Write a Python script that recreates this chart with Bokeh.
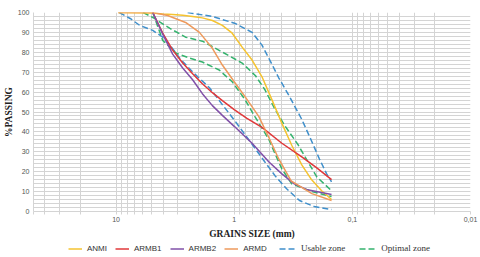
from bokeh.plotting import figure
from bokeh.models import Range1d, FixedTicker, Legend, LegendItem
from bokeh.layouts import column
from bokeh.embed import file_html
from bokeh.resources import INLINE

# ---- data (grain size in mm, % passing) ----
anmi_size = [9.6, 4.89, 4.03, 3.32, 2.73, 2.25, 1.86, 1.53, 1.26, 1.04, 0.857, 0.706, 0.582, 0.48, 0.395, 0.326, 0.268, 0.221, 0.182, 0.15]
anmi_pass = [100, 99.7, 99.3, 99.0, 98.6, 98.0, 97.3, 96.0, 93.5, 89.6, 82.6, 76.1, 67.7, 56.2, 44.3, 33.3, 23.4, 15.9, 10.4, 6.0]

armb1_size = [4.89, 4.03, 3.32, 2.73, 2.25, 1.86, 1.53, 1.26, 1.0, 0.78, 0.582, 0.395, 0.268, 0.2, 0.15]
armb1_pass = [100, 89.6, 81.1, 74.6, 69.2, 64.2, 59.7, 55.7, 51.2, 46.8, 42.3, 34.3, 27.4, 21.9, 16.0]

armb2_size = [4.89, 4.03, 3.32, 2.73, 2.25, 1.86, 1.53, 1.26, 1.0, 0.706, 0.508, 0.395, 0.31, 0.24, 0.15]
armb2_pass = [100, 89.1, 79.1, 72.1, 66.2, 59.2, 53.2, 48.3, 42.8, 34.3, 24.9, 18.9, 13.9, 10.9, 8.5]

armd_size = [9.6, 4.89, 3.66, 2.58, 1.97, 1.53, 1.26, 1.0, 0.81, 0.62, 0.51, 0.42, 0.33, 0.22, 0.15]
armd_pass = [100, 100, 98.5, 95.0, 90.0, 82.0, 73.6, 65.2, 57.7, 47.8, 37.3, 26.4, 15.4, 9.0, 5.5]

usable_up_size = [2.48, 1.53, 0.98, 0.706, 0.582, 0.5, 0.42, 0.34, 0.268, 0.221, 0.19, 0.165, 0.15]
usable_up_pass = [100, 98.0, 94.5, 90.0, 83.6, 76.1, 67.2, 57.7, 46.3, 35.3, 26.4, 18.9, 14.9]

usable_lo_size = [9.4, 7.6, 6.3, 4.89, 4.03, 3.5, 2.9, 2.25, 1.62, 1.26, 0.98, 0.706, 0.55, 0.45, 0.36, 0.28, 0.21, 0.15]
usable_lo_pass = [100, 97.0, 93.5, 91.0, 87.6, 83.6, 77.1, 70.1, 62.2, 53.7, 45.3, 33.8, 24.9, 17.9, 11.4, 5.5, 2.5, 1.0]

optimal_up_size = [5.9, 4.89, 3.5, 2.58, 1.86, 1.26, 0.857, 0.66, 0.55, 0.45, 0.37, 0.29, 0.24, 0.2, 0.15]
optimal_up_pass = [100, 97.5, 92.0, 87.6, 85.6, 80.1, 74.6, 68.2, 61.2, 51.2, 42.8, 33.8, 25.4, 17.4, 10.4]

optimal_lo_size = [4.89, 4.03, 3.1, 2.4, 1.86, 1.34, 1.04, 0.81, 0.67, 0.51, 0.45, 0.395, 0.326, 0.221, 0.15]
optimal_lo_pass = [100, 86.0, 79.6, 77.1, 75.1, 71.1, 65.2, 56.2, 47.8, 36.3, 28.9, 21.4, 13.9, 10.0, 7.5]

x_major = [10, 1, 0.1, 0.01]
x_labels = {10: "10", 1: "1", 0.1: "0,1", 0.01: "0,01"}
x_minor = [50, 40, 30, 20,
           9, 8, 7, 6, 5, 4, 3, 2,
           0.9, 0.8, 0.7, 0.6, 0.5, 0.4, 0.3, 0.2,
           0.09, 0.08, 0.07, 0.06, 0.05, 0.04, 0.03, 0.02]
y_major = list(range(0, 101, 10))
y_minor = list(range(0, 101, 2))

GRID = "#d4d4d4"
BLUE = "#3f8fcb"
GREEN = "#35b36e"
YELLOW = "#f5c330"
RED = "#e0383a"
PURPLE = "#8150a8"
ORANGE = "#ee9a5c"
DASH = "6 3"
W = 1.5

p = figure(width=478, height=241, x_axis_type="log",
           x_range=Range1d(50, 0.01), y_range=Range1d(0, 100),
           output_backend="svg", toolbar_location=None,
           min_border_left=0, min_border_right=8, min_border_top=12,
           min_border_bottom=26)
p.outline_line_color = None

p.xaxis.ticker = FixedTicker(ticks=x_major, minor_ticks=x_minor)
p.xaxis.major_label_overrides = x_labels
p.yaxis.ticker = FixedTicker(ticks=y_major, minor_ticks=y_minor)

for ax in (p.xaxis, p.yaxis):
    ax.axis_line_color = GRID
    ax.major_label_text_font = "Liberation Sans"
    ax.major_label_text_font_size = "7px"
    ax.major_label_text_color = "#555555"
    ax.axis_label_text_font = "Liberation Serif"
    ax.axis_label_text_font_style = "bold"
    ax.axis_label_text_font_size = "9.5px"
    ax.axis_label_text_color = "#222222"

p.xaxis.axis_label = "GRAINS SIZE (mm)"
p.xaxis.major_tick_line_color = GRID
p.xaxis.minor_tick_line_color = GRID
p.xaxis.major_tick_out = 3
p.xaxis.minor_tick_out = 3
p.xaxis.major_tick_in = 0
p.xaxis.minor_tick_in = 0
p.xaxis.major_label_standoff = 2
p.xaxis.axis_label_standoff = 4

p.yaxis.axis_label = "%PASSING"
p.yaxis.major_tick_line_color = None
p.yaxis.minor_tick_line_color = None
p.yaxis.major_tick_out = 0
p.yaxis.minor_tick_out = 0
p.yaxis.major_label_standoff = 4
p.yaxis.axis_label_standoff = 1

for g in (p.xgrid, p.ygrid):
    g.grid_line_color = GRID
    g.minor_grid_line_color = GRID
    g.grid_line_width = 1
    g.minor_grid_line_width = 1

p.line(usable_up_size, usable_up_pass, line_color=BLUE, line_width=W, line_dash=DASH)
p.line(usable_lo_size, usable_lo_pass, line_color=BLUE, line_width=W, line_dash=DASH)
p.line(optimal_up_size, optimal_up_pass, line_color=GREEN, line_width=W, line_dash=DASH)
p.line(optimal_lo_size, optimal_lo_pass, line_color=GREEN, line_width=W, line_dash=DASH)
p.line(anmi_size, anmi_pass, line_color=YELLOW, line_width=W)
p.line(armb1_size, armb1_pass, line_color=RED, line_width=W)
p.line(armb2_size, armb2_pass, line_color=PURPLE, line_width=W)
p.line(armd_size, armd_pass, line_color=ORANGE, line_width=W)

# ---- legend strip (swatch renderers sit outside the visible range) ----
lg = figure(width=478, height=16, x_range=Range1d(1, 2), y_range=Range1d(1, 2),
            output_backend="svg", toolbar_location=None,
            min_border_left=0, min_border_right=0, min_border_top=0, min_border_bottom=0)
lg.axis.visible = False
lg.grid.visible = False
lg.outline_line_color = None

sw = [0]
l_anmi = lg.line(sw, sw, line_color=YELLOW, line_width=W)
l_armb1 = lg.line(sw, sw, line_color=RED, line_width=W)
l_armb2 = lg.line(sw, sw, line_color=PURPLE, line_width=W)
l_armd = lg.line(sw, sw, line_color=ORANGE, line_width=W)
l_use = lg.line(sw, sw, line_color=BLUE, line_width=W, line_dash=DASH)
l_opt = lg.line(sw, sw, line_color=GREEN, line_width=W, line_dash=DASH)


def make_legend(items, loc, font, size):
    leg = Legend(items=items, orientation="horizontal", location=loc)
    leg.label_text_font = font
    leg.label_text_font_size = size
    leg.label_text_color = "#333333"
    leg.label_standoff = 5
    leg.glyph_width = 14
    leg.glyph_height = 9
    leg.label_height = 9
    leg.spacing = 8
    leg.padding = 0
    leg.margin = 0
    leg.border_line_color = None
    leg.background_fill_alpha = 0
    return leg


leg1 = make_legend([
    LegendItem(label="ANMI", renderers=[l_anmi]),
    LegendItem(label="ARMB1", renderers=[l_armb1]),
    LegendItem(label="ARMB2", renderers=[l_armb2]),
    LegendItem(label="ARMD", renderers=[l_armd]),
], (35, 4), "Liberation Sans", "8px")
leg2 = make_legend([
    LegendItem(label="Usable zone", renderers=[l_use]),
    LegendItem(label="Optimal zone", renderers=[l_opt]),
], (246, 4), "Liberation Serif", "9px")
leg2.glyph_width = 16
leg2.label_standoff = 6
leg2.spacing = 14
lg.add_layout(leg1, "center")
lg.add_layout(leg2, "center")

layout = column(p, lg, spacing=0)
open("out.html", "w").write(file_html(layout, INLINE))
